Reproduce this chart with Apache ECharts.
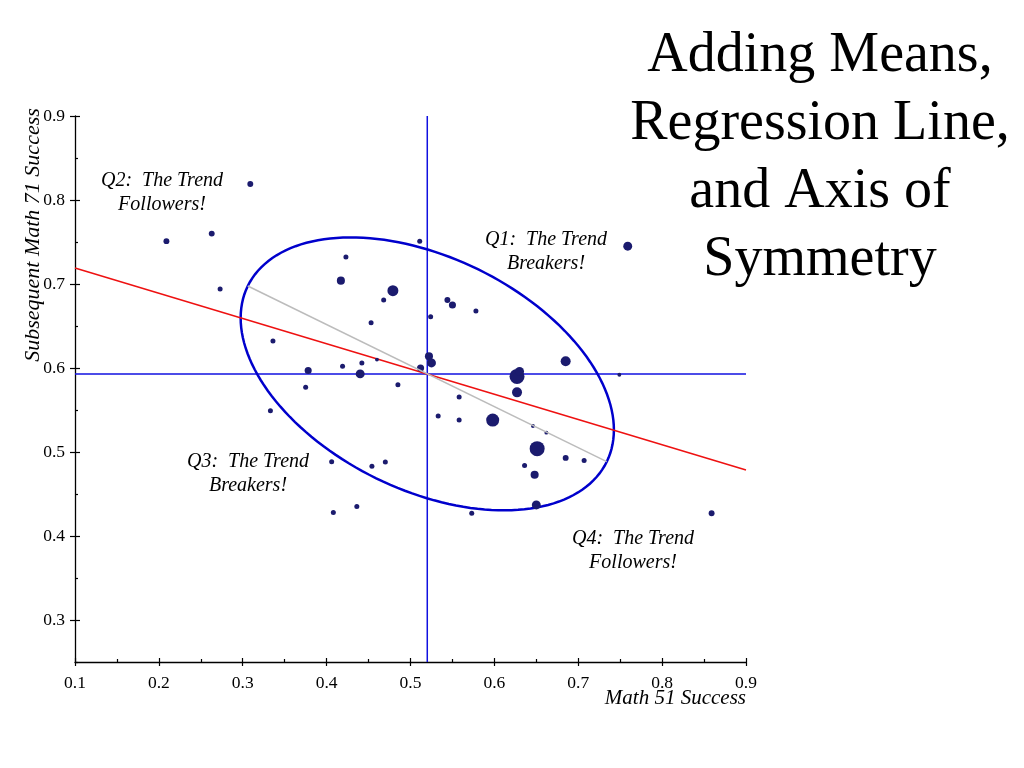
<!DOCTYPE html>
<html>
<head>
<meta charset="utf-8">
<script src="https://cdn.jsdelivr.net/npm/echarts@6/dist/echarts.min.js"></script>
<style>
html,body{margin:0;padding:0;background:#fff;}
#chart{width:1024px;height:768px;}
</style>
</head>
<body>
<div id="chart"></div>
<script>
// ---- data ----
const math51 = [0.309,0.209,0.263,0.273,0.423,0.417,0.479,0.468,0.453,0.336,
  0.511,0.524,0.544,0.550,0.578,0.522,0.525,0.512,0.460,0.442,
  0.419,0.378,0.440,0.375,0.485,0.627,0.630,0.627,0.685,0.749,
  0.759,0.558,0.533,0.558,0.598,0.646,0.662,0.651,0.685,0.707,
  0.636,0.648,0.650,0.573,0.859,0.333,0.406,0.454,0.470,0.408,0.436];
const math71 = [0.819,0.751,0.760,0.694,0.732,0.704,0.692,0.681,0.654,0.632,
  0.751,0.661,0.681,0.675,0.668,0.614,0.606,0.600,0.610,0.606,
  0.602,0.597,0.593,0.577,0.580,0.590,0.596,0.571,0.608,0.592,
  0.745,0.5655,0.543,0.538,0.538,0.531,0.523,0.504,0.493,0.490,
  0.484,0.473,0.437,0.427,0.427,0.549,0.4885,0.483,0.488,0.428,0.435];
// relative weight of each point (drawn as bubble area)
const weight = [1.4,1.4,1.4,1.0,1.0,2.6,4.8,1.0,1.0,1.0,
  1.0,1.0,1.4,2.0,1.0,2.6,3.2,2.0,0.6,1.0,
  1.0,2.0,3.2,1.0,1.0,9.0,3.2,4.0,4.0,0.6,
  3.2,1.0,1.0,1.0,6.8,0.6,0.6,9.0,1.4,1.0,
  1.0,2.6,3.2,1.0,1.4,1.0,1.0,1.0,1.0,1.0,1.0];

const meanX = 0.52;
const meanY = 0.593;
const regressionLine = [[0.1, 0.719], [0.9, 0.4786]];
const symmetryAxis = [[0.306, 0.6976], [0.734, 0.4885]];
// ellipse: centre and the two semi-axis vectors (data units)
const ellipseCentre = [meanX, meanY];
const ellipseMajor = [0.214, -0.1046];
const ellipseMinor = [-0.0609, -0.1243];

const xTicks = [0.1,0.2,0.3,0.4,0.5,0.6,0.7,0.8,0.9];
const xMinor = [0.15,0.25,0.35,0.45,0.55,0.65,0.75,0.85];
const yTicks = [0.3,0.4,0.5,0.6,0.7,0.8,0.9];
const yMinor = [0.25,0.35,0.45,0.55,0.65,0.75,0.85];

const titleLines = ['Adding Means,', 'Regression Line,', 'and Axis of', 'Symmetry'];
const xName = 'Math 51 Success';
const yName = 'Subsequent Math 71 Success';
const notes = [
  {text: 'Q2:  The Trend\nFollowers!', x: 162, y: 193},
  {text: 'Q1:  The Trend\nBreakers!',  x: 546, y: 252},
  {text: 'Q3:  The Trend\nBreakers!',  x: 248, y: 474},
  {text: 'Q4:  The Trend\nFollowers!', x: 633, y: 551}
];

// ---- chart ----
const SERIF = '"Liberation Serif","Times New Roman",serif';
const chart = echarts.init(document.getElementById('chart'));

function axisBase(min, max, pos) {
  return {type: 'value', min: min, max: max, position: pos, splitLine: {show: false},
    axisLine: {show: false}, axisLabel: {show: false}, axisTick: {show: false}};
}
const tickStyle = {color: '#000', width: 1.2};

const xAxes = [
  Object.assign(axisBase(0.1, 0.9, 'bottom'), {
    axisLine: {show: true, onZero: false, lineStyle: {color: '#000', width: 1.3}},
    axisTick: {show: true, customValues: xTicks, length: 4, lineStyle: tickStyle},
    axisLabel: {show: true, customValues: xTicks, formatter: v => v.toFixed(1),
      fontFamily: SERIF, fontSize: 17.5, color: '#000', margin: 12}
  }),
  Object.assign(axisBase(0.1, 0.9, 'bottom'), {
    axisTick: {show: true, inside: true, customValues: xTicks, length: 4, lineStyle: tickStyle}
  }),
  Object.assign(axisBase(0.1, 0.9, 'bottom'), {
    axisTick: {show: true, inside: true, customValues: xMinor, length: 3, lineStyle: tickStyle}
  })
];
const yAxes = [
  Object.assign(axisBase(0.25, 0.9, 'left'), {
    axisLine: {show: true, onZero: false, lineStyle: {color: '#000', width: 1.3}},
    axisTick: {show: true, customValues: yTicks, length: 5, lineStyle: tickStyle},
    axisLabel: {show: true, customValues: yTicks, formatter: v => v.toFixed(1),
      fontFamily: SERIF, fontSize: 17.5, color: '#000', margin: 10}
  }),
  Object.assign(axisBase(0.25, 0.9, 'left'), {
    axisTick: {show: true, inside: true, customValues: yTicks, length: 5, lineStyle: tickStyle}
  }),
  Object.assign(axisBase(0.25, 0.9, 'left'), {
    axisTick: {show: true, inside: true, customValues: yMinor, length: 3, lineStyle: tickStyle}
  })
];

const points = math51.map((x, i) => [x, math71[i], weight[i]]);

const graphics = [
  {type: 'text', x: 820, y: 22, silent: true,
   style: {text: titleLines.join('\n'), fontFamily: SERIF, fontSize: 56, lineHeight: 68,
     fill: '#000', align: 'center', textAlign: 'center', verticalAlign: 'top', textVerticalAlign: 'top'}},
  {type: 'text', x: 746, y: 698, silent: true,
   style: {text: xName, fontFamily: SERIF, fontSize: 21, fontStyle: 'italic', fill: '#000',
     align: 'right', textAlign: 'right', verticalAlign: 'middle', textVerticalAlign: 'middle'}},
  {type: 'text', x: 33, y: 235, rotation: Math.PI / 2, silent: true,
   style: {text: yName, fontFamily: SERIF, fontSize: 22, fontStyle: 'italic', fill: '#000',
     align: 'center', textAlign: 'center', verticalAlign: 'middle', textVerticalAlign: 'middle'}}
];
notes.forEach(n => graphics.push({type: 'text', x: n.x, y: n.y, silent: true,
  style: {text: n.text, fontFamily: SERIF, fontSize: 20, fontStyle: 'italic', lineHeight: 24,
    fill: '#000', align: 'center', textAlign: 'center', verticalAlign: 'middle', textVerticalAlign: 'middle'}}));

chart.setOption({
  animation: false,
  backgroundColor: '#fff',
  grid: {left: 75, right: 278, top: 116, bottom: 106, containLabel: false, outerBoundsMode: 'none'},
  xAxis: xAxes,
  yAxis: yAxes,
  graphic: graphics,
  series: [
    {type: 'line', data: [[meanX, 0.9], [meanX, 0.25]], symbol: 'none', silent: true, z: 2,
     lineStyle: {color: '#1010e0', width: 1.5}},
    {type: 'line', data: [[0.1, meanY], [0.9, meanY]], symbol: 'none', silent: true, z: 2,
     lineStyle: {color: '#1010e0', width: 1.5}},
    {type: 'custom', data: [ellipseCentre], silent: true, z: 3,
     renderItem: function (params, api) {
       const pts = [];
       for (let k = 0; k <= 160; k++) {
         const t = k / 160 * 2 * Math.PI;
         pts.push(api.coord([
           ellipseCentre[0] + ellipseMajor[0] * Math.cos(t) + ellipseMinor[0] * Math.sin(t),
           ellipseCentre[1] + ellipseMajor[1] * Math.cos(t) + ellipseMinor[1] * Math.sin(t)
         ]));
       }
       return {type: 'polyline', shape: {points: pts},
         style: {stroke: '#0000cc', lineWidth: 2.5, fill: null}};
     }},
    {type: 'line', data: regressionLine, symbol: 'none', silent: true, z: 4,
     lineStyle: {color: '#ee1111', width: 1.5}},
    {type: 'scatter', data: points, z: 5, silent: true,
     symbolSize: d => 5 * Math.sqrt(d[2]),
     itemStyle: {color: '#1b1b6e', opacity: 1}},
    {type: 'line', data: symmetryAxis, symbol: 'none', silent: true, z: 6,
     lineStyle: {color: '#bcbcbc', width: 1.5}}
  ]
});
</script>
</body>
</html>
